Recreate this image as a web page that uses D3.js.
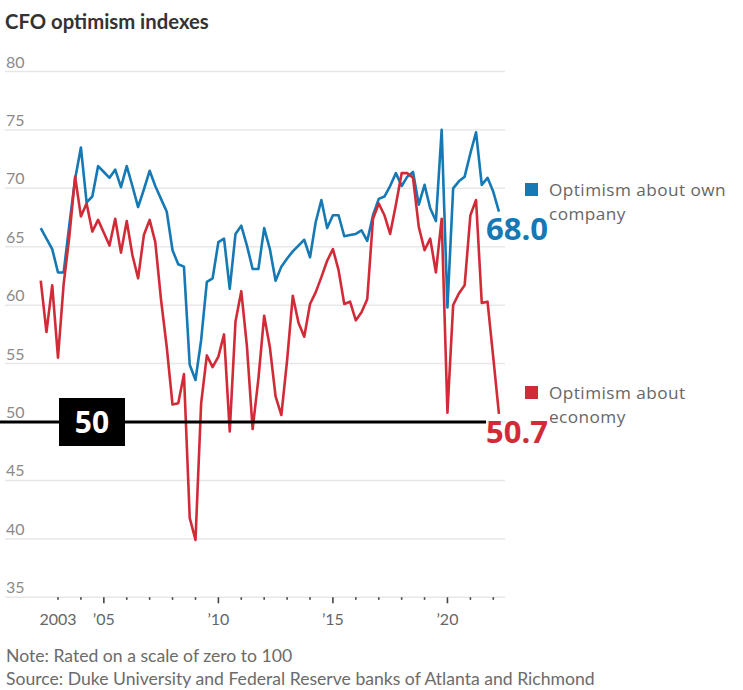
<!DOCTYPE html>
<html>
<head>
<meta charset="utf-8">
<script src="https://cdn.jsdelivr.net/npm/d3@7"></script>
<style>
  html, body { margin: 0; padding: 0; background: #ffffff; }
  svg { display: block; }
</style>
</head>
<body>
<svg id="chart" width="743" height="690"></svg>
<script>
// ---- Data (quarterly, starting 2002 Q2) ----
const startQuarter = "2002-04";
const companyValues = [
  66.6, 65.7, 64.8, 62.8, 62.8, 66.9, 70.8, 73.5, 68.8, 69.3,
  71.9, 71.4, 70.9, 71.6, 70.1, 71.9, 70.2, 68.4, 69.9, 71.5,
  70.2, 69.1, 68.0, 64.7, 63.5, 63.3, 54.9, 53.6, 57.0, 62.0,
  62.3, 65.4, 65.7, 61.4, 66.1, 66.8, 65.1, 63.1, 63.1, 66.6,
  64.8, 62.1, 63.3, 64.0, 64.6, 65.1, 65.6, 64.1, 67.1, 69.0,
  66.6, 67.7, 67.7, 65.9, 66.0, 66.1, 66.4, 65.5, 67.7, 69.1,
  69.3, 70.2, 71.3, 70.2, 71.0, 71.4, 68.6, 70.3, 68.3, 67.2,
  75.0, 59.8, 70.0, 70.6, 71.0, 73.0, 74.8, 70.3, 70.9, 69.7,
  68.0
];
const economyValues = [
  62.1, 57.7, 61.7, 55.5, 61.8, 65.9, 71.0, 67.6, 68.7, 66.3,
  67.3, 66.2, 65.1, 67.4, 64.5, 67.2, 64.3, 62.3, 66.0, 67.3,
  65.4, 60.5, 56.4, 51.5, 51.6, 54.1, 41.8, 39.9, 51.6, 55.7,
  54.7, 55.6, 57.5, 49.2, 58.6, 61.2, 56.5, 49.4, 53.7, 59.1,
  56.4, 52.2, 50.6, 55.3, 60.8, 58.5, 57.3, 60.1, 61.1, 62.4,
  63.8, 64.8, 63.0, 60.1, 60.3, 58.7, 59.4, 60.5, 67.4, 68.7,
  67.7, 66.1, 68.6, 71.3, 71.3, 70.9, 66.7, 64.7, 65.7, 62.8,
  67.4, 50.8, 60.0, 61.0, 61.7, 67.7, 69.0, 60.2, 60.3, 55.5,
  50.7
];
const yTicks = [35, 40, 45, 50, 55, 60, 65, 70, 75, 80];
const xTickYears = [2003, 2004, 2005, 2006, 2007, 2008, 2009, 2010, 2011, 2012,
                    2013, 2014, 2015, 2016, 2017, 2018, 2019, 2020, 2021, 2022];
const xTickLabels = {2003: "2003", 2005: "\u201905", 2010: "\u201910", 2015: "\u201915", 2020: "\u201920"};
const majorYears = [2005, 2010, 2015, 2020];
const lastLabels = ["68.0", "50.7"];
const thresholdValue = 50;

// ---- Setup ----
const parse = d3.timeParse("%Y-%m");
const start = parse(startQuarter);
const dates = companyValues.map((_, i) => d3.timeMonth.offset(start, 3 * i));

const svg = d3.select("#chart");
const blue = "#1479b4";
const red = "#d22b38";
const gridColor = "#e7e7e7";
const fontSans = "Lato, 'Open Sans', 'DejaVu Sans', sans-serif";
const fontWide = "'Open Sans', 'Noto Sans', sans-serif";

const x = d3.scaleTime()
  .domain([new Date(2003, 0, 1), new Date(2022, 0, 1)])
  .range([58, 493.3]);
const y = d3.scaleLinear().domain([35, 80]).range([597.3, 71.5]);

// Title
svg.append("text")
  .attr("x", 5).attr("y", 29)
  .attr("font-family", fontSans)
  .attr("font-weight", 700)
  .attr("font-size", 20.3)
  .attr("fill", "#333")
  .text("CFO optimism indexes");

// Gridlines
const grid = svg.append("g");
grid.selectAll("line").data(yTicks).join("line")
  .attr("x1", 5).attr("x2", 505)
  .attr("y1", d => y(d)).attr("y2", d => y(d))
  .attr("stroke", gridColor).attr("stroke-width", 1.5);
grid.selectAll("text").data(yTicks).join("text")
  .attr("x", 6).attr("y", d => y(d) - 4)
  .attr("font-family", fontSans)
  .attr("font-size", 16)
  .attr("fill", "#8a8a8a")
  .text(d => d);

// X axis ticks
const xAxis = svg.append("g");
xAxis.selectAll("line").data(xTickYears).join("line")
  .attr("x1", d => x(new Date(d, 0, 1))).attr("x2", d => x(new Date(d, 0, 1)))
  .attr("y1", y(35))
  .attr("y2", d => majorYears.includes(d) ? y(35) + 6 : y(35) + 2.5)
  .attr("stroke", "#444").attr("stroke-width", 1.6);
xAxis.selectAll("text").data(xTickYears.filter(d => xTickLabels[d])).join("text")
  .attr("x", d => x(new Date(d, 0, 1)))
  .attr("y", 625)
  .attr("text-anchor", "middle")
  .attr("font-family", fontSans)
  .attr("font-size", 16)
  .attr("fill", "#666")
  .text(d => xTickLabels[d]);

// Lines
const line = d3.line().x((d, i) => x(dates[i])).y(d => y(d));
svg.append("path").datum(companyValues)
  .attr("d", line).attr("fill", "none")
  .attr("stroke", blue).attr("stroke-width", 2.6)
  .attr("stroke-linejoin", "round");
svg.append("path").datum(economyValues)
  .attr("d", line).attr("fill", "none")
  .attr("stroke", red).attr("stroke-width", 2.6)
  .attr("stroke-linejoin", "round");

// Threshold line at 50
svg.append("line")
  .attr("x1", 0).attr("x2", 486)
  .attr("y1", y(thresholdValue)).attr("y2", y(thresholdValue))
  .attr("stroke", "#000").attr("stroke-width", 3);
svg.append("rect")
  .attr("x", 59).attr("y", 398).attr("width", 66).attr("height", 48)
  .attr("fill", "#000");
svg.append("text")
  .attr("x", 92).attr("y", 433)
  .attr("text-anchor", "middle")
  .attr("font-family", fontWide)
  .attr("font-weight", 700)
  .attr("font-size", 30)
  .attr("fill", "#fff")
  .text(thresholdValue);

// End value labels
svg.append("text")
  .attr("x", 486).attr("y", 240)
  .attr("font-family", fontWide)
  .attr("font-weight", 700).attr("font-size", 31)
  .attr("fill", blue)
  .text(lastLabels[0]);
svg.append("text")
  .attr("x", 486).attr("y", 443)
  .attr("font-family", fontWide)
  .attr("font-weight", 700).attr("font-size", 31)
  .attr("fill", red)
  .text(lastLabels[1]);

// Legends
const legends = [
  {color: blue, y: 183, lines: ["Optimism about own", "company"]},
  {color: red, y: 386, lines: ["Optimism about", "economy"]}
];
legends.forEach(l => {
  svg.append("rect").attr("x", 525).attr("y", l.y).attr("width", 13).attr("height", 13).attr("fill", l.color);
  const t = svg.append("text")
    .attr("x", 549).attr("y", l.y + 13)
    .attr("font-family", fontWide)
    .attr("font-size", 17.2)
    .attr("letter-spacing", 0.45)
    .attr("fill", "#666");
  l.lines.forEach((s, j) => {
    t.append("tspan").attr("x", 549).attr("dy", j === 0 ? 0 : 23.6).text(s);
  });
});

// Notes
svg.append("text")
  .attr("x", 6).attr("y", 662)
  .attr("font-family", fontSans).attr("font-size", 17.6).attr("fill", "#6b6b6b")
  .text("Note: Rated on a scale of zero to 100");
svg.append("text")
  .attr("x", 6).attr("y", 685)
  .attr("font-family", fontSans).attr("font-size", 17.6).attr("fill", "#6b6b6b")
  .text("Source: Duke University and Federal Reserve banks of Atlanta and Richmond");
</script>
</body>
</html>
